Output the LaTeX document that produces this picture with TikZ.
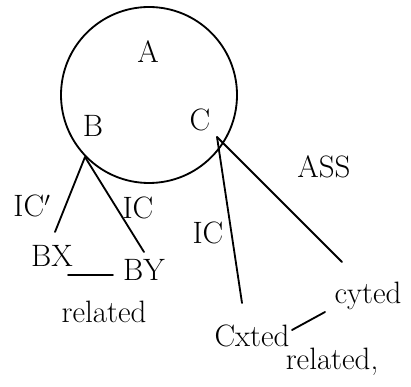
\documentclass[tikz,border=0pt]{standalone}
\usepackage{amsmath,amssymb}
\usetikzlibrary{arrows.meta}
\tikzset{
  every picture/.style={line join=round, line cap=round, >=Stealth},
  hand/.style={font=\fontsize{22}{26}\selectfont, inner sep=1pt},
  stroke/.style={line width=1.3pt},
}

\begin{document}
\begin{tikzpicture}[x=0.025cm,y=-0.025cm]
\useasboundingbox(0,0)rectangle(411,386);
% the set A with B and C inside
\draw[stroke](149,95)circle(88);
\node[hand](a)at(148,52){A};
\node[hand](b)at(93,126){B};
\node[hand](c)at(200,120){C};
\coordinate(b0)at(85,157);
\coordinate(c0)at(217,137);
% left branch
\coordinate(bxend)at(55,232);
\coordinate(byend)at(144,252);
\draw[stroke](b0)--(bxend);
\draw[stroke](b0)--(byend);
\node[hand](icl)at(32,206){IC$'$};
\node[hand](icm)at(138,208){IC};
\node[hand](bx)at(52,256){BX};
\node[hand](by)at(144,270){BY};
\coordinate(bxr)at(68,275);
\coordinate(byl)at(113,275);
\draw[stroke](bxr)--(byl);
\node[hand](rl)at(104,312){related};
% right branch
\node[hand](ass)at(324,167){ASS};
\coordinate(cxend)at(242,303);
\coordinate(cyend)at(342,262);
\draw[stroke](c0)--(cxend);
\draw[stroke](c0)--(cyend);
\node[hand](icr)at(208,233){IC};
\node[hand](cx)at(252,336){Cxted};
\node[hand](cy)at(368,296){cyted};
\coordinate(cxr)at(292,330);
\coordinate(cyl)at(325,312);
\draw[stroke](cxr)--(cyl);
\node[hand](rr)at(332,362){related,};
\end{tikzpicture}
\end{document}
